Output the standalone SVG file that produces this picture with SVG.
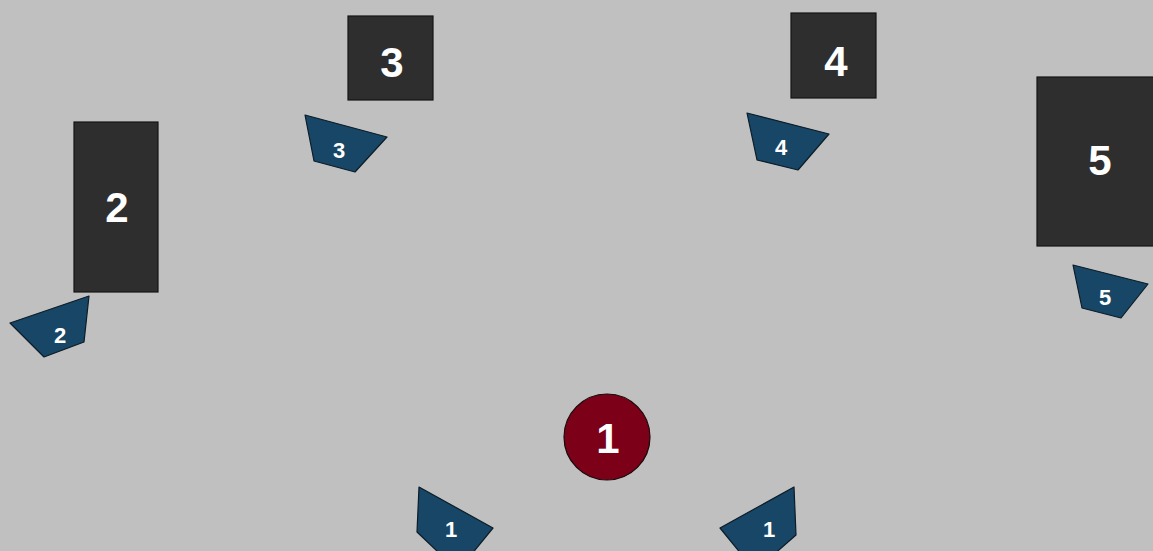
<svg xmlns="http://www.w3.org/2000/svg" width="1153" height="551" viewBox="0 0 1153 551">
<style>
.bg{fill:#c0c0c0}
.box{fill:#2e2e2e;stroke:#141414;stroke-width:1.2}
.wedge{fill:#174666;stroke:#0c1c28;stroke-width:1.2;stroke-linejoin:round}
.disk{fill:#7b0018;stroke:#1a0a0a;stroke-width:1.2}
.big{font-family:"Liberation Sans",Arial,sans-serif;font-weight:bold;font-size:42px;fill:#ffffff;text-anchor:middle}
.small{font-family:"Liberation Sans",Arial,sans-serif;font-weight:bold;font-size:22px;fill:#ffffff;text-anchor:middle}
</style>
<rect class="bg" x="0" y="0" width="1153" height="551"/>
<g id="connectors"/>
<g id="node-box-2"><rect class="box" x="74" y="122" width="84" height="170"/><text class="big" x="117" y="222">2</text></g>
<g id="node-box-3"><rect class="box" x="348" y="16" width="85" height="84"/><text class="big" x="392" y="77">3</text></g>
<g id="node-box-4"><rect class="box" x="791" y="13" width="85" height="85"/><text class="big" x="836" y="76">4</text></g>
<g id="node-box-5"><rect class="box" x="1037" y="77" width="120" height="169"/><text class="big" x="1100" y="175">5</text></g>
<g id="node-circle-1"><circle class="disk" cx="607" cy="437" r="43"/><text class="big" x="608" y="453">1</text></g>
<g id="node-wedge-2"><polygon class="wedge" points="10,323 89,296 84,342 44,357"/><text class="small" x="60" y="343">2</text></g>
<g id="node-wedge-3"><polygon class="wedge" points="305,115 387,137 355,172 314,161"/><text class="small" x="339" y="158">3</text></g>
<g id="node-wedge-4"><polygon class="wedge" points="747,113 829,134 798,170 757,160"/><text class="small" x="781" y="155">4</text></g>
<g id="node-wedge-5"><polygon class="wedge" points="1073,265 1148,284 1121,318 1082,308"/><text class="small" x="1105" y="305">5</text></g>
<g id="node-wedge-1a"><polygon class="wedge" points="419,487 493,528 458,571 417,532"/><text class="small" x="451" y="537">1</text></g>
<g id="node-wedge-1b"><polygon class="wedge" points="794,487 796,535 755,571 720,528"/><text class="small" x="769" y="537">1</text></g>
</svg>
